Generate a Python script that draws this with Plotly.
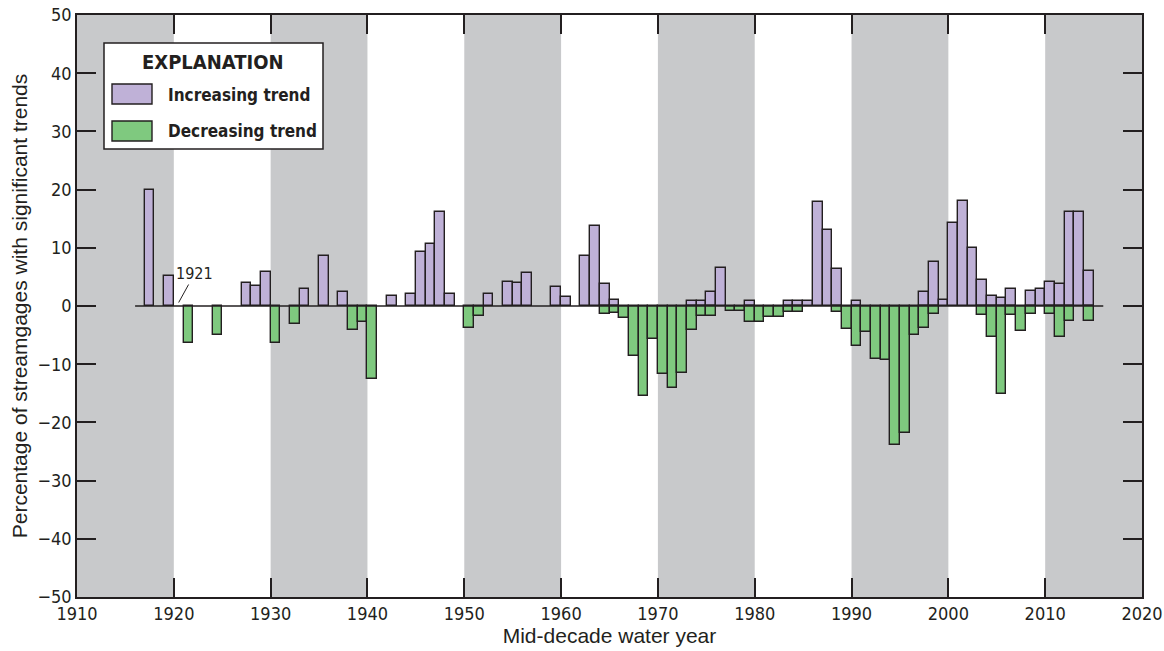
import plotly.graph_objects as go

# Water years (bar spans the year ending at each value) and percentages
inc_years = [1918, 1920, 1928, 1929, 1930, 1934, 1936, 1938, 1943, 1945, 1946, 1947,
             1948, 1949, 1953, 1955, 1956, 1957, 1960, 1961, 1963, 1964, 1965, 1966,
             1974, 1975, 1976, 1977, 1980, 1984, 1985, 1986, 1987, 1988, 1989, 1991,
             1998, 1999, 2000, 2001, 2002, 2003, 2004, 2005, 2006, 2007, 2009, 2010,
             2011, 2012, 2013, 2014, 2015]
inc_values = [20.0, 5.2, 3.9, 3.5, 5.8, 2.9, 8.6, 2.4, 1.8, 2.1, 9.2, 10.6,
              16.1, 2.1, 2.0, 4.1, 4.0, 5.7, 3.3, 1.6, 8.6, 13.7, 3.7, 1.0,
              0.8, 0.8, 2.4, 6.6, 0.8, 0.8, 0.8, 0.8, 17.8, 13.0, 6.4, 0.9,
              2.4, 7.5, 1.1, 14.2, 18.1, 9.9, 4.4, 1.7, 1.3, 3.0, 2.6, 3.0,
              4.1, 3.8, 16.1, 16.1, 6.1]

dec_years = [1922, 1925, 1931, 1933, 1939, 1940, 1941, 1951, 1952, 1965, 1966, 1967,
             1968, 1969, 1970, 1971, 1972, 1973, 1974, 1975, 1976, 1978, 1979, 1980,
             1981, 1982, 1983, 1984, 1985, 1989, 1990, 1991, 1992, 1993, 1994, 1995,
             1996, 1997, 1998, 1999, 2004, 2005, 2006, 2007, 2008, 2009, 2011, 2012,
             2013, 2015]
dec_values = [-6.3, -5.0, -6.3, -3.1, -4.1, -2.7, -12.6, -3.7, -1.8, -1.3, -1.2, -2.1,
              -8.6, -15.5, -5.6, -11.7, -14.1, -11.5, -4.2, -1.7, -1.7, -0.9, -0.9, -2.7,
              -2.8, -1.9, -1.9, -1.0, -1.0, -1.0, -4.0, -6.8, -4.5, -9.1, -9.3, -23.9,
              -21.9, -5.0, -3.8, -1.3, -1.5, -5.3, -15.1, -1.5, -4.3, -1.3, -1.4, -5.3,
              -2.5, -2.5]

x_ticks = [1910, 1920, 1930, 1940, 1950, 1960, 1970, 1980, 1990, 2000, 2010, 2020]
y_ticks = [-50, -40, -30, -20, -10, 0, 10, 20, 30, 40, 50]
y_tick_text = [("\u2212" + str(-v)) if v < 0 else str(v) for v in y_ticks]
shaded_decades = [1910, 1930, 1950, 1970, 1990, 2010]

PURPLE = "#bfb1d7"
GREEN = "#7fc97f"
BAND = "#c8c9cb"
INK = "#231f20"
NARROW = "DejaVu Sans Condensed, Liberation Sans Narrow, Arial Narrow, sans-serif"
REGULAR = "Liberation Sans, Arial, sans-serif"

W, H = 1164, 651
ML, MR, MT, MB = 77, 22, 15, 54


def px(xp):
    return (xp - ML) / (W - ML - MR)


def py(yp):
    return (H - MB - yp) / (H - MT - MB)


fig = go.Figure()
fig.add_trace(go.Bar(x=inc_years, y=inc_values, width=1, offset=-1,
                     marker=dict(color=PURPLE, line=dict(color=INK, width=1.4)),
                     name="Increasing trend", showlegend=False))
fig.add_trace(go.Bar(x=dec_years, y=dec_values, width=1, offset=-1,
                     marker=dict(color=GREEN, line=dict(color=INK, width=1.4)),
                     name="Decreasing trend", showlegend=False))

shapes = []
for d in shaded_decades:
    shapes.append(dict(type="rect", xref="x", yref="paper", x0=d, x1=d + 10, y0=0, y1=1,
                       fillcolor=BAND, line=dict(width=0), layer="below"))
# zero line across the period of record
shapes.append(dict(type="line", xref="x", yref="y", x0=1916, x1=2016, y0=0, y1=0,
                   line=dict(color=INK, width=1.5), layer="above"))

# explanation box
shapes.append(dict(type="rect", xref="paper", yref="paper", x0=px(104), x1=px(323),
                   y0=py(149), y1=py(43), fillcolor="white",
                   line=dict(color=INK, width=1.5), layer="above"))
shapes.append(dict(type="rect", xref="paper", yref="paper", x0=px(112), x1=px(152),
                   y0=py(104), y1=py(84), fillcolor=PURPLE,
                   line=dict(color=INK, width=1.4), layer="above"))
shapes.append(dict(type="rect", xref="paper", yref="paper", x0=px(112), x1=px(152),
                   y0=py(141), y1=py(121), fillcolor=GREEN,
                   line=dict(color=INK, width=1.4), layer="above"))

annotations = [
    dict(xref="paper", yref="paper", x=px(213), y=py(62), text="<b>EXPLANATION</b>",
         showarrow=False, font=dict(family=NARROW, size=20, color=INK),
         xanchor="center", yanchor="middle"),
    dict(xref="paper", yref="paper", x=px(166), y=py(95), text="<b>Increasing trend</b>",
         showarrow=False, font=dict(family=NARROW, size=17, color=INK),
         xanchor="left", yanchor="middle"),
    dict(xref="paper", yref="paper", x=px(166), y=py(131), text="<b>Decreasing trend</b>",
         showarrow=False, font=dict(family=NARROW, size=17, color=INK),
         xanchor="left", yanchor="middle"),
    dict(xref="x", yref="y", x=1920.5, y=0.6, text="1921", showarrow=True,
         arrowhead=0, arrowwidth=1, arrowcolor=INK, ax=16, ay=-29,
         font=dict(family=NARROW, size=16, color=INK)),
]

axis_common = dict(showgrid=False, zeroline=False, showline=True, linecolor=INK,
                   linewidth=1.5, mirror="ticks", ticks="inside", ticklen=19,
                   tickwidth=1.5, tickcolor=INK, automargin=False,
                   tickfont=dict(family=NARROW, size=18, color=INK))

fig.update_layout(
    width=W, height=H,
    margin=dict(l=ML, r=MR, t=MT, b=MB),
    paper_bgcolor="white", plot_bgcolor="white",
    barmode="relative", bargap=0,
    shapes=shapes, annotations=annotations,
    xaxis=dict(range=[1910, 2020], tickvals=x_ticks, **axis_common,
               title=dict(text="Mid-decade water year", standoff=0,
                          font=dict(family=REGULAR, size=21, color=INK))),
    yaxis=dict(range=[-50, 50], tickvals=y_ticks, ticktext=y_tick_text, **axis_common,
               title=dict(text="Percentage of streamgages with significant trends",
                          standoff=4, font=dict(family=REGULAR, size=21, color=INK))),
)

fig.write_html("out.html")
